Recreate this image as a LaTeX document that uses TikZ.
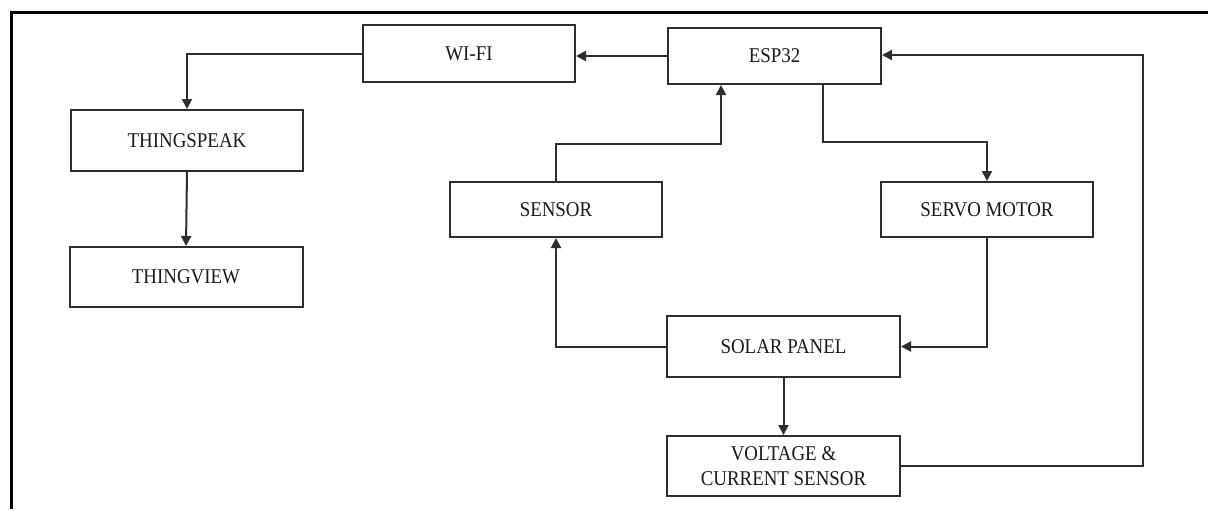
\documentclass[tikz,border=0pt]{standalone}
\usepackage{fontspec}
\setmainfont{Liberation Serif}[FakeStretch=0.9]
\usetikzlibrary{arrows.meta}
\definecolor{linecol}{HTML}{2E2E2E}
\definecolor{txtcol}{HTML}{1A1A1A}
\tikzset{
  blk/.style={draw=linecol, line width=2pt, minimum width=#1, inner sep=0pt, align=center,
    text=txtcol, font=\fontsize{21}{25}\selectfont},
  blk/.default=212pt,
  conn/.style={draw=linecol, line width=2pt, -{Triangle[length=10pt,width=10pt]}}
}
\begin{document}
\begin{tikzpicture}[x=1pt,y=-1pt]
\useasboundingbox (0,0) rectangle (1208,509);
\fill[white] (0,0) rectangle (1208,509);
% outer frame (clipped on right and bottom)
\draw[black, line width=3pt] (11,509) -- (11,12) -- (1208,12);

\node[blk=212pt, minimum height=57pt] (wifi) at (469,53.5) {WI-FI};
\node[blk=213pt, minimum height=56pt] (esp) at (774.5,56) {ESP32};
\node[blk=232pt, minimum height=61pt] (tspeak) at (187,140.5) {THINGSPEAK};
\node[blk=233pt, minimum height=60pt] (tview) at (186,277) {THINGVIEW};
\node[blk=212pt, minimum height=55pt] (sensor) at (556,209.5) {SENSOR};
\node[blk=212pt, minimum height=55pt] (servo) at (987,209.5) {SERVO MOTOR};
\node[blk=233pt, minimum height=61pt] (solar) at (783.5,346.5) {SOLAR PANEL};
\node[blk=233pt, minimum height=60pt] (volt) at (783.5,466) {VOLTAGE \&\\CURRENT SENSOR};

\coordinate (a1) at (721,144);
\coordinate (b1) at (823,142);
\coordinate (c1) at (1143,55);

% ESP32 -> WI-FI
\draw[conn] (esp.west) -- (esp.west -| wifi.east);
% WI-FI -> THINGSPEAK
\draw[conn] (wifi.west) -| (tspeak.north);
% THINGSPEAK -> THINGVIEW
\draw[conn] (tspeak.south) -- (tview.north);
% SENSOR -> ESP32
\draw[conn] (sensor.north) |- (a1) -- (a1 |- esp.south);
% ESP32 -> SERVO MOTOR
\draw[conn] (b1 |- esp.south) -- (b1) -| (servo.north);
% SERVO MOTOR -> SOLAR PANEL
\draw[conn] (servo.south) |- (solar.east);
% SOLAR PANEL -> SENSOR
\draw[conn] (solar.west) -| (sensor.south);
% SOLAR PANEL -> VOLTAGE & CURRENT SENSOR
\draw[conn] (solar.south) -- (volt.north);
% VOLTAGE & CURRENT SENSOR -> ESP32
\draw[conn] (volt.east) -| (c1) -- (c1 -| esp.east);
\end{tikzpicture}
\end{document}
